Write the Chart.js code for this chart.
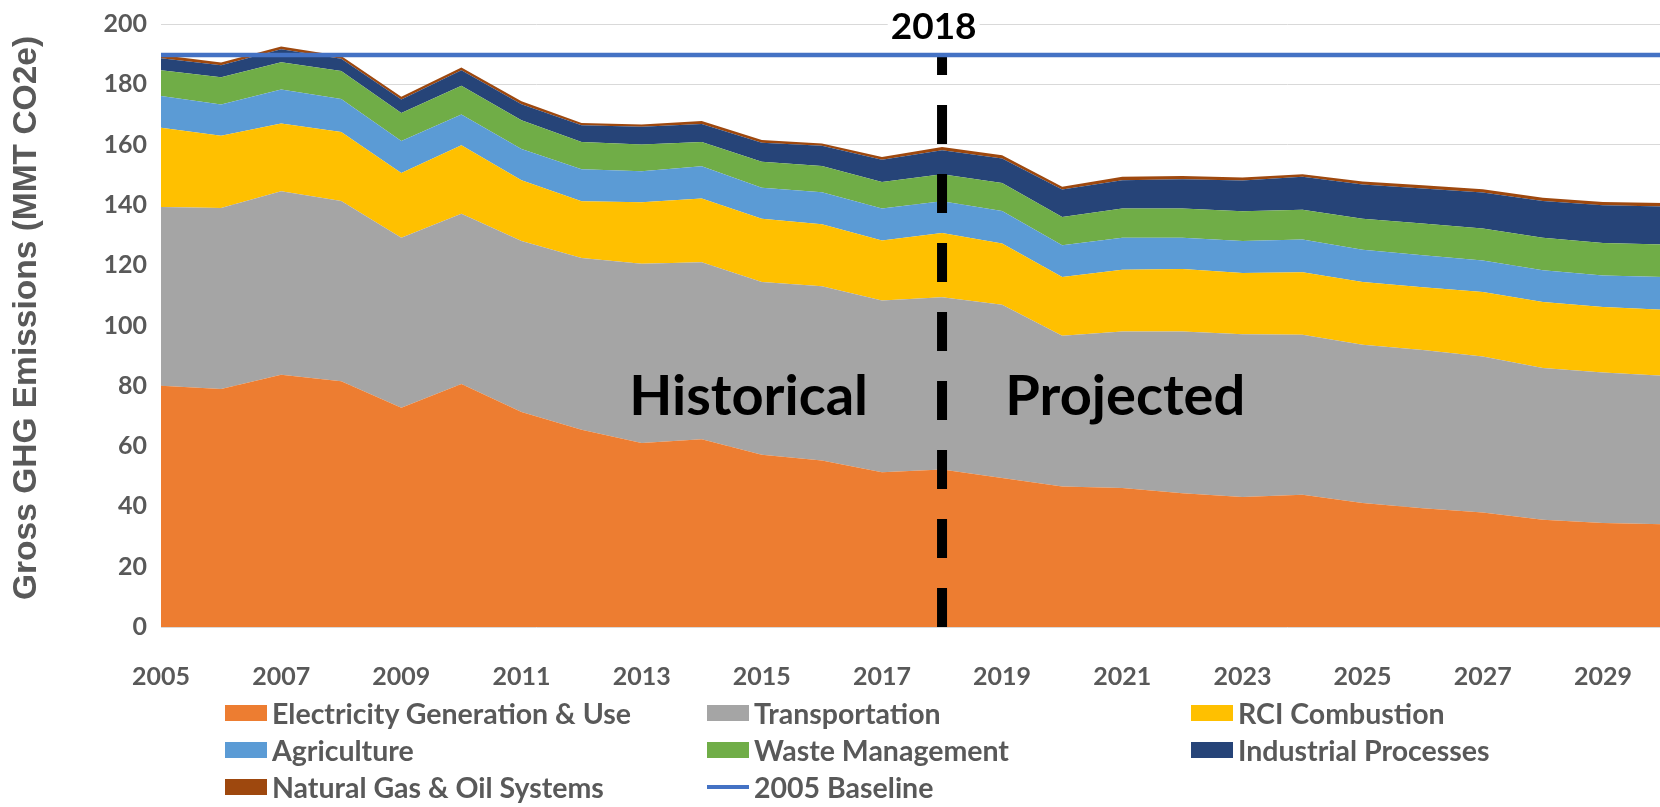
<!DOCTYPE html>
<html>
<head>
<meta charset="utf-8">
<title>Gross GHG Emissions</title>
<script src="https://cdn.jsdelivr.net/npm/chart.js@4.4.1/dist/chart.umd.min.js"></script>
<style>
    html, body { margin: 0; padding: 0; background: #fff; overflow: hidden; }
    #wrap { position: relative; width: 1660px; height: 807px; overflow: hidden; }
    #ghgChart { position: absolute; left: 0; top: 0; }
    #legend {
        position: absolute; left: 225px; top: 694px;
        display: grid; grid-template-columns: 482px 484px 420px; grid-auto-rows: 37px;
        font-family: Lato, sans-serif; font-weight: 700; font-size: 28.5px; color: #595959;
    }
    .item { display: flex; align-items: center; white-space: nowrap; }
    .swatch { width: 42px; height: 16px; margin-right: 5px; flex: none; }
    .swatch.line { height: 4px; }
</style>
</head>
<body>
<div id="wrap">
    <canvas id="ghgChart" width="1668" height="807"></canvas>
    <div id="legend"></div>
</div>
<script>
const years = ['2005', '2006', '2007', '2008', '2009', '2010', '2011', '2012', '2013', '2014', '2015', '2016', '2017',
    '2018', '2019', '2020', '2021', '2022', '2023', '2024', '2025', '2026', '2027', '2028', '2029', '2030'];

// MMT CO2e per sector
const electricity = [80.0, 78.9, 83.7, 81.5, 72.7, 80.6, 71.3, 65.4, 61.0, 62.3, 57.1, 55.2, 51.3,
    52.2, 49.4, 46.6, 46.1, 44.4, 43.1, 43.9, 41.1, 39.4, 38.0, 35.6, 34.5, 34.1];
const transportation = [59.3, 60.1, 60.8, 59.8, 56.4, 56.5, 56.7, 57.0, 59.5, 58.7, 57.3, 57.8, 57.0,
    57.2, 57.5, 50.0, 51.9, 53.6, 54.0, 53.0, 52.5, 52.5, 51.7, 50.3, 49.9, 49.2];
const rciCombustion = [26.3, 23.9, 22.5, 22.9, 21.5, 22.7, 20.2, 18.8, 20.4, 21.1, 21.0, 20.6, 19.9,
    21.3, 20.3, 19.5, 20.5, 20.7, 20.3, 20.8, 20.8, 20.8, 21.4, 21.9, 21.7, 21.9];
const agriculture = [10.5, 10.4, 11.3, 10.9, 10.6, 10.2, 10.3, 10.6, 10.3, 10.7, 10.3, 10.6, 10.6,
    10.5, 10.8, 10.5, 10.6, 10.4, 10.6, 10.8, 10.7, 10.6, 10.5, 10.5, 10.5, 10.9];
const wasteManagement = [8.6, 9.0, 9.0, 9.3, 9.3, 9.5, 9.6, 9.1, 8.8, 8.1, 8.6, 8.7, 8.8,
    9.0, 9.3, 9.4, 9.7, 9.7, 9.9, 9.9, 10.3, 10.5, 10.6, 10.8, 10.8, 10.8];
const industrial = [3.9, 4.0, 4.3, 4.1, 4.5, 5.2, 5.3, 5.5, 5.9, 5.9, 6.3, 6.7, 7.4,
    7.9, 8.1, 9.1, 9.4, 9.7, 10.2, 10.9, 11.4, 11.6, 11.9, 12.2, 12.5, 12.6];
const naturalGasOil = [1.1, 0.9, 0.9, 0.9, 0.9, 0.9, 1.0, 0.8, 0.8, 1.0, 0.9, 0.8, 0.9,
    1.1, 1.1, 0.9, 1.1, 1.1, 1.0, 0.9, 1.0, 1.1, 1.1, 1.1, 1.1, 1.1];
const baseline2005 = years.map(() => 189.7);

const yTicks = {min: 0, max: 200, step: 20};
const splitYear = '2018';
const yTitle = 'Gross GHG Emissions (MMT CO2e)';

const tickColor = '#595959';
const tickFont = {family: 'Lato', size: 25, weight: 'bold'};

function area(label, data, color, fill) {
    return {
        label: label, data: data, fill: fill,
        backgroundColor: color, borderColor: color, borderWidth: 0,
        pointRadius: 0, tension: 0, stack: 'sectors'
    };
}

// dashed divider, year label, period captions and the axis title
const periodMarks = {
    id: 'periodMarks',
    afterDatasetDraw(chart, args) {
        if (args.index !== 0) return;
        const {ctx, scales: {x, y}} = chart;
        const px = x.getPixelForValue(years.indexOf(splitYear));
        ctx.save();
        ctx.strokeStyle = '#000';
        ctx.lineWidth = 10;
        ctx.setLineDash([39, 30]);
        ctx.beginPath();
        ctx.moveTo(px, y.getPixelForValue(0));
        ctx.lineTo(px, y.getPixelForValue(baseline2005[0]));
        ctx.stroke();
        ctx.restore();
    },
    afterDatasetsDraw(chart) {
        const {ctx, scales: {x, y}} = chart;
        const idx = years.indexOf(splitYear);
        ctx.save();
        ctx.textAlign = 'center';
        ctx.textBaseline = 'alphabetic';

        ctx.font = 'bold 37px Lato';
        const lx = x.getPixelForValue(idx - 0.14);
        const w = ctx.measureText(splitYear).width;
        ctx.fillStyle = '#fff';
        ctx.fillRect(lx - w / 2 - 3, y.getPixelForValue(199) - 22, w + 6, 34);
        ctx.fillStyle = '#000';
        ctx.fillText(splitYear, lx, y.getPixelForValue(195));

        ctx.font = 'bold 56px Lato';
        ctx.fillText('Historical', x.getPixelForValue(idx - 3.22), y.getPixelForValue(70.3));
        ctx.fillText('Projected', x.getPixelForValue(idx + 3.05), y.getPixelForValue(70.3));

        // rotated y axis title
        ctx.translate(27, y.getPixelForValue(102.5));
        ctx.rotate(-Math.PI / 2);
        ctx.textBaseline = 'middle';
        ctx.fillStyle = tickColor;
        ctx.font = 'bold 33.5px "Liberation Sans"';
        ctx.fillText(yTitle, 0, 0);
        ctx.restore();
    }
};

const ctx = document.getElementById('ghgChart');
const chart = new Chart(ctx, {
    type: 'line',
    data: {
        labels: years,
        datasets: [
            area('Electricity Generation & Use', electricity, '#ED7D31', 'origin'),
            area('Transportation', transportation, '#A5A5A5', '-1'),
            area('RCI Combustion', rciCombustion, '#FFC000', '-1'),
            area('Agriculture', agriculture, '#5B9BD5', '-1'),
            area('Waste Management', wasteManagement, '#70AD47', '-1'),
            area('Industrial Processes', industrial, '#264478', '-1'),
            area('Natural Gas & Oil Systems', naturalGasOil, '#9E480E', '-1'),
            {
                label: '2005 Baseline', data: baseline2005, fill: false,
                borderColor: '#4472C4', backgroundColor: '#4472C4', borderWidth: 4.5,
                pointRadius: 0, tension: 0, stack: 'baseline', order: -1
            }
        ]
    },
    options: {
        responsive: false,
        animation: false,
        devicePixelRatio: 1,
        layout: {padding: {top: 24, right: 5, left: 0, bottom: 0}},
        plugins: {legend: {display: false}, tooltip: {enabled: false}},
        scales: {
            x: {
                grid: {display: false},
                border: {display: false},
                ticks: {
                    autoSkip: false, maxRotation: 0, padding: 27,
                    color: tickColor, font: tickFont,
                    callback: (v, i) => (i % 2 === 0 ? years[i] : '')
                },
                afterFit: (scale) => {
                    scale.height = 180;
                    scale.paddingLeft = 0;
                    scale.paddingRight = 0;
                }
            },
            y: {
                stacked: true,
                min: yTicks.min, max: yTicks.max,
                grid: {color: '#d9d9d9', lineWidth: 1, drawTicks: false},
                border: {display: false},
                ticks: {stepSize: yTicks.step, padding: 14, color: tickColor, font: tickFont},
                afterFit: (scale) => {
                    scale.width = 161;
                    scale.paddingTop = 0;
                    scale.paddingBottom = 0;
                }
            }
        }
    },
    plugins: [periodMarks]
});

// legend laid out in three columns like the original
const legendEl = document.getElementById('legend');
chart.data.datasets.forEach((ds) => {
    const item = document.createElement('div');
    item.className = 'item';
    const sw = document.createElement('span');
    sw.className = ds.fill === false ? 'swatch line' : 'swatch';
    sw.style.backgroundColor = ds.borderColor;
    item.appendChild(sw);
    item.appendChild(document.createTextNode(ds.label));
    legendEl.appendChild(item);
});
</script>
</body>
</html>
